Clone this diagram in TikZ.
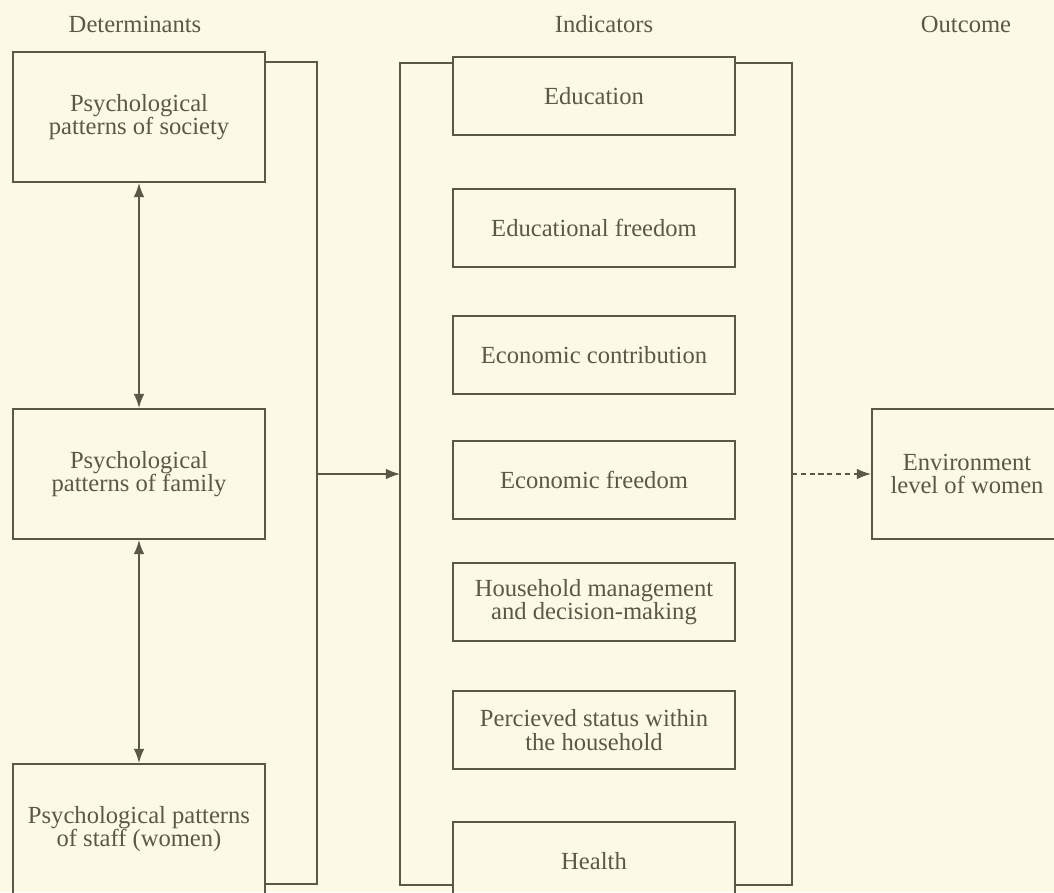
\documentclass[tikz,border=0pt]{standalone}
\usepackage{fontspec}
\setmainfont{Liberation Serif}
\usetikzlibrary{arrows.meta}

\definecolor{paper}{RGB}{252,250,229}
\definecolor{ink}{RGB}{92,88,72}

\tikzset{
  box/.style={draw=ink, line width=1.2pt, align=center, text=ink, inner sep=0pt,
    font=\fontsize{14}{13.5}\selectfont},
  detbox/.style={box, minimum width=5.04cm, minimum height=2.6cm},
  indbox/.style={box, minimum width=5.64cm, minimum height=1.56cm},
  head/.style={text=ink, font=\fontsize{14}{14}\selectfont},
  brk/.style={draw=ink, line width=0.8pt}
}

\begin{document}
\begin{tikzpicture}[>={Latex[length=8pt,width=6pt]}, x=0.02cm, y=-0.02cm]

\fill[paper] (0,0) rectangle (1054,892);
\useasboundingbox (0,0) rectangle (1054,892);
\clip (0,0) rectangle (1054,892);

% headings
\node[head] (hdet) at (135,24) {Determinants};
\node[head] (hind) at (604,24) {Indicators};
\node[head] (hout) at (966,24) {Outcome};

% determinants
\node[detbox] (soc) at (139,117) {Psychological\\patterns of society};
\node[detbox] (fam) at (139,474) {Psychological\\patterns of family};
\node[detbox] (stf) at (139,829) {Psychological patterns\\of staff (women)};

\draw[ink, line width=0.8pt, <->] (soc.south) -- (fam.north);
\draw[ink, line width=0.8pt, <->] (fam.south) -- (stf.north);

% indicators
\node[indbox] (edu) at (594,96) {Education};
\node[indbox] (edf) at (594,228) {Educational freedom};
\node[indbox] (ecc) at (594,355) {Economic contribution};
\node[indbox] (ecf) at (594,480) {Economic freedom};
\node[indbox] (hhm) at (594,602) {Household management\\and decision-making};
\node[indbox] (pst) at (594,730) {Percieved status within\\the household};
\node[indbox] (hlt) at (594,861) {Health};

% outcome
\node[box, minimum width=3.8cm, minimum height=2.6cm] (env) at (967,474) {Environment\\level of women};

% brackets
\coordinate (lbT) at (317,62);
\coordinate (lbB) at (317,884);
\coordinate (lbM) at (317,474);
\draw[brk] (soc.east |- lbT) -- (lbT) -- (lbB) -- (stf.east |- lbB);

\coordinate (mlT) at (400,63);
\coordinate (mlB) at (400,885);
\coordinate (mlM) at (400,474);
\draw[brk] (edu.west |- mlT) -- (mlT) -- (mlB) -- (hlt.west |- mlB);

\coordinate (mrT) at (792,63);
\coordinate (mrB) at (792,885);
\coordinate (mrM) at (792,474);
\draw[brk] (edu.east |- mrT) -- (mrT) -- (mrB) -- (hlt.east |- mrB);

\draw[ink, line width=0.8pt, ->] (lbM) -- (mlM);
\draw[ink, line width=0.8pt, densely dashed, ->] (mrM) -- (env.west);

\end{tikzpicture}
\end{document}
